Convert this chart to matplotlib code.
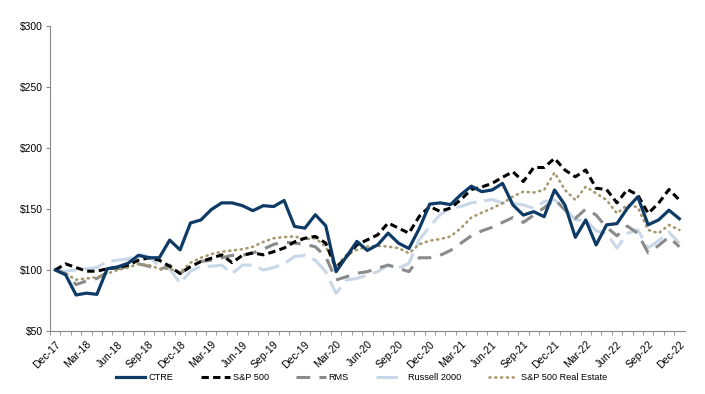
import pandas as pd
import matplotlib.pyplot as plt

plt.rcParams["font.family"] = ["Liberation Sans", "DejaVu Sans"]

months = pd.date_range("2017-12-01", "2022-12-01", freq="MS").strftime("%b-%y").tolist()

ctre = [100, 96, 79.5, 81, 80, 101, 102.5, 105.5, 112, 110, 110, 124.5,
        116.5, 138.5, 141, 149.5, 155, 155, 152.7, 148.6, 152.7, 152, 157, 135.7,
        134.3, 145.3, 136.3, 98.6, 111, 123.4, 116, 120.6, 130.2, 122, 117.6, 134,
        154, 155, 153.6, 161.8, 168.7, 164.2, 165.6, 171, 153.3, 145, 147.8, 143.7,
        165.6, 153.3, 126.8, 141, 120.5, 137, 138, 150.6, 160, 137, 141, 149, 142]
sp500 = [100, 105, 102, 99, 99, 101, 102, 104, 108, 110, 108, 103,
         97, 102.7, 106.9, 109.6, 112.4, 106, 112, 114, 112.4, 115, 118, 123,
         126, 127.5, 122, 101.4, 111, 120.6, 124.7, 128.8, 138.5, 134.3, 130.2, 144,
         152, 148, 150.8, 157.7, 166, 168, 171, 176, 180.5, 172.5, 184, 184,
         191.5, 181.9, 176.4, 182, 167, 166, 155, 166, 161.5, 146.4, 154.7, 166, 157.4]
rms = [100, 97, 88, 91, 93, 98, 101, 103, 105, 103, 100, 104,
       97, 103, 107, 108, 110, 112, 112, 114, 117, 121, 123, 122,
       121, 119, 111, 91.8, 94.5, 97.3, 98.6, 101.4, 104, 101.4, 98.6, 110,
       110, 112, 116, 122, 128, 132, 135, 139, 143, 139, 145, 151,
       158, 149.2, 142.3, 150, 145, 135, 128, 136, 130, 114, 120, 127, 119]
russell = [100, 99, 100, 101, 102, 107, 108, 109, 113, 111, 103, 101,
           89, 99, 103, 103, 104, 97, 104, 104, 100, 102, 105, 111,
           112, 108, 98.6, 80.8, 91.8, 93, 95.9, 98.6, 104, 101.4, 105.5, 124.7,
           135.7, 145.3, 150.8, 152, 155, 156.3, 157.7, 155, 154.7, 153.3, 150.6, 156,
           157.4, 150.6, 141.1, 141, 132, 130, 118, 130, 133, 118, 124, 131, 122]
real_estate = [100, 97, 92, 93, 94, 97, 100, 102, 105, 104, 101, 101,
               98, 106, 110, 113, 115, 116, 117, 119, 123, 126, 127, 127.5,
               125.3, 126, 119.2, 102.7, 112.4, 116.5, 119.2, 119.8, 119.2, 117.9, 113.7, 121,
               124, 125.3, 127.5, 134.3, 143, 147, 150.6, 154.7, 160.2, 164.2, 163.5, 165.6,
               179.8, 165.6, 157.4, 168.3, 162.8, 157.4, 146.4, 153.3, 151.4, 132.8, 130.1, 136.9, 132.8]

x = list(range(len(months)))

fig = plt.figure(figsize=(7.05, 3.94), dpi=100)
ax = fig.add_axes([0.071, 0.16, 0.9, 0.774])

ax.plot(x, ctre, color="#0e3a66", lw=2.3, label="CTRE", zorder=6)
ax.plot(x, sp500, color="black", lw=2.2, dashes=(2.4, 1.4), label="S&P 500", zorder=5)
ax.plot(x, rms, color="#8a8a8a", lw=2.2, dashes=(4.5, 3), label="RMS", zorder=3)
ax.plot(x, russell, color="#c9d8e8", lw=2.2, dashes=(7, 2.5), label="Russell 2000", zorder=2)
ax.plot(x, real_estate, color="#a59a6e", lw=1.9, dashes=(0.4, 1.8),
        dash_capstyle="round", label="S&P 500 Real Estate", zorder=4)

ax.set_xlim(-0.5, len(months) - 0.5)
ax.set_ylim(50, 300)
ax.set_yticks(range(50, 301, 50))
ax.set_yticklabels([f"${v}" for v in range(50, 301, 50)], fontsize=7.5)

ax.set_xticks(x[::3])
ax.set_xticklabels(months[::3], rotation=45, ha="right", rotation_mode="anchor", fontsize=7.5)
ax.set_xticks([i + 0.5 for i in x[:-1]] + [-0.5], minor=True)
ax.tick_params(axis="x", which="major", length=0, pad=6)
ax.tick_params(axis="x", which="minor", length=3, color="#888888")
ax.tick_params(axis="y", length=3, color="#888888", pad=2)

for side in ["top", "right"]:
    ax.spines[side].set_visible(False)
for side in ["left", "bottom"]:
    ax.spines[side].set_color("#888888")

fig.legend(loc="lower center", bbox_to_anchor=(0.513, 0.01), ncol=5, frameon=False,
           fontsize=6.6, handlelength=3.2, columnspacing=3.0, handletextpad=0.3)

fig.savefig("out.png", dpi=100)
